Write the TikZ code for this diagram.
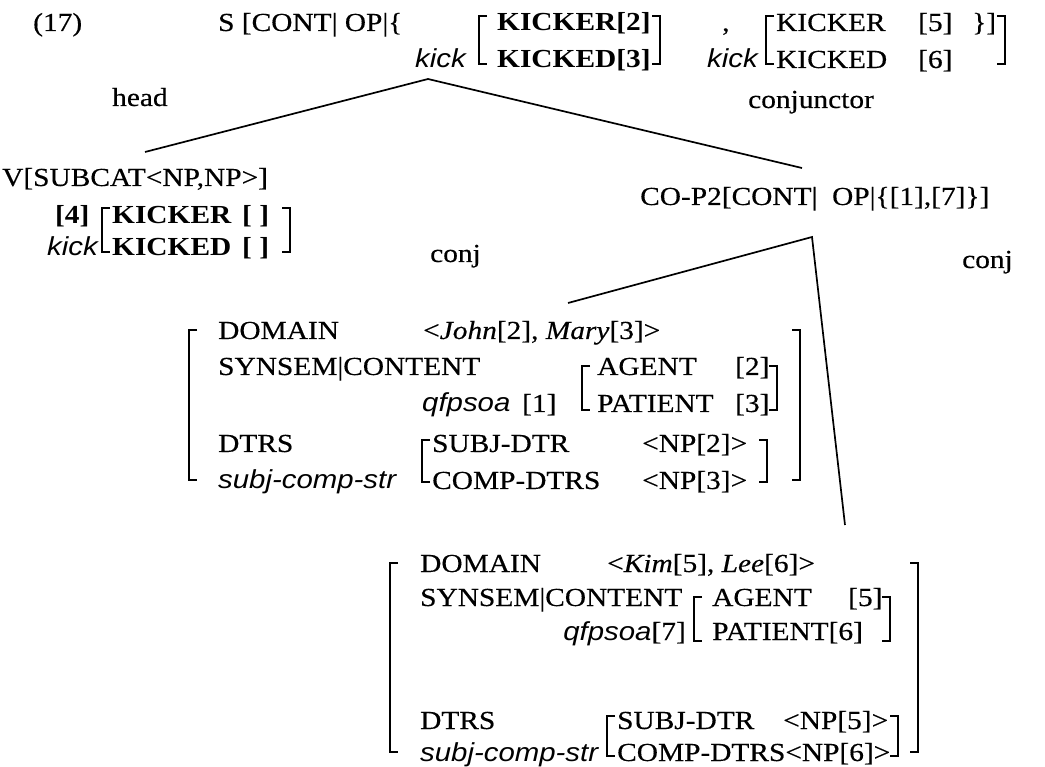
\documentclass[tikz,border=0pt]{standalone}
\usepackage{fontspec}
\setmainfont{Liberation Serif}[FakeStretch=1.13,UprightFeatures={FakeBold=0.4},ItalicFeatures={FakeBold=0.4}]
\newfontfamily\sfit{Liberation Sans}[FakeStretch=1.13]
\newcommand\avmsize{\fontsize{26pt}{30pt}\selectfont}
\begin{document}
\begin{tikzpicture}[x=1pt,y=-1pt,
  lbl/.style={anchor=base west,inner sep=0pt,font=\avmsize},
  bld/.style={lbl,font=\avmsize\bfseries},
  tsl/.style={lbl,font=\avmsize\sfit\itshape},
  brk/.style={line width=1.3pt},
  branch/.style={line width=1.7pt}]
\useasboundingbox (0,0) rectangle (1045,767);
% mother S
\node[lbl] (num) at (33,31) {(17)};
\node[lbl] (sHead) at (218,31) {S [CONT\textbar\ OP\textbar\{};
\node[tsl,anchor=base east] (sKickA) at (466,68) {kick};
\draw[brk] (487,16) -- (479,16) -- (479,64) -- (487,64);
\node[bld] (sKickerA) at (497,31) {KICKER[2]};
\node[bld] (sKickedA) at (497,68) {KICKED[3]};
\draw[brk] (652,16) -- (660,16) -- (660,64) -- (652,64);
\node[lbl] (sComma) at (722,31) {,};
\node[tsl,anchor=base east] (sKickB) at (758,68) {kick};
\draw[brk] (774,16) -- (766,16) -- (766,64) -- (774,64);
\node[lbl] (sKickerB) at (776,31) {KICKER};
\node[lbl] (sKickedB) at (776,68) {KICKED};
\node[lbl] (sFive) at (918,31) {[5]};
\node[lbl] (sSix) at (918,68) {[6]};
\node[lbl] (sClose) at (972,31) {\}]};
\draw[brk] (997,16) -- (1005,16) -- (1005,64) -- (997,64);
\node[lbl] (head) at (112,106) {head};
\node[lbl] (conjunctor) at (748,108) {conjunctor};
\coordinate (sTop) at (428,79);
\coordinate (vTop) at (145,152);
\coordinate (coTop) at (802,168);
\draw[branch] (vTop) -- (sTop) -- (coTop);
% head daughter V
\node[lbl] (vHead) at (2,186) {V[SUBCAT<NP,NP>]};
\node[bld] (vTag) at (55,224) {[4]};
\node[tsl] (vKick) at (47,256) {kick};
\draw[brk] (110,208) -- (102,208) -- (102,252) -- (110,252);
\node[bld] (vKicker) at (112,224) {KICKER};
\node[bld] (vKicked) at (112,256) {KICKED};
\node[bld] (vKickerVal) at (242,224) {[~]};
\node[bld] (vKickedVal) at (242,256) {[~]};
\draw[brk] (282,208) -- (290,208) -- (290,252) -- (282,252);
\node[lbl] (conjA) at (430,262) {conj};
% conjunct daughter CO-P2
\node[lbl] (coHead) at (640,205) {CO-P2[CONT\textbar\ \ OP\textbar\{[1],[7]\}]};
\node[lbl] (conjB) at (962,268) {conj};
\coordinate (coApex) at (812,237);
\coordinate (avmATop) at (568,303);
\coordinate (avmBTop) at (845,525);
\draw[branch] (avmATop) -- (coApex) -- (avmBTop);
% first conjunct
\draw[brk] (197,330) -- (189,330) -- (189,480) -- (197,480);
\node[lbl] (aDomain) at (218,339) {DOMAIN};
\node[lbl] (aDomainVal) at (423,339) {<\textit{John}[2], \textit{Mary}[3]>};
\node[lbl] (aSynsem) at (218,375) {SYNSEM\textbar CONTENT};
\node[tsl] (aSort) at (422,412) {qfpsoa};
\node[lbl] (aTag) at (522,412) {[1]};
\draw[brk] (590,366) -- (582,366) -- (582,410) -- (590,410);
\node[lbl] (aAgent) at (597,375) {AGENT};
\node[lbl] (aAgentVal) at (735,375) {[2]};
\node[lbl] (aPatient) at (597,412) {PATIENT};
\node[lbl] (aPatientVal) at (735,412) {[3]};
\draw[brk] (769,366) -- (777,366) -- (777,410) -- (769,410);
\node[lbl] (aDtrs) at (218,452) {DTRS};
\node[tsl] (aStr) at (218,489) {subj-comp-str};
\draw[brk] (430,440) -- (422,440) -- (422,482) -- (430,482);
\node[lbl] (aSubj) at (432,452) {SUBJ-DTR};
\node[lbl] (aSubjVal) at (642,452) {<NP[2]>};
\node[lbl] (aComp) at (432,489) {COMP-DTRS};
\node[lbl] (aCompVal) at (642,489) {<NP[3]>};
\draw[brk] (759,440) -- (767,440) -- (767,482) -- (759,482);
\draw[brk] (792,330) -- (800,330) -- (800,480) -- (792,480);
% second conjunct
\draw[brk] (398,563) -- (390,563) -- (390,752) -- (398,752);
\node[lbl] (bDomain) at (420,572) {DOMAIN};
\node[lbl] (bDomainVal) at (607,572) {<\textit{Kim}[5], \textit{Lee}[6]>};
\node[lbl] (bSynsem) at (420,606) {SYNSEM\textbar CONTENT};
\node[lbl,anchor=base east] (bSort) at (686,640) {{\sfit\itshape qfpsoa}[7]};
\draw[brk] (702,597) -- (694,597) -- (694,641) -- (702,641);
\node[lbl] (bAgent) at (712,606) {AGENT};
\node[lbl] (bAgentVal) at (848,606) {[5]};
\node[lbl] (bPatient) at (712,640) {PATIENT[6]};
\draw[brk] (882,597) -- (890,597) -- (890,641) -- (882,641);
\node[lbl] (bDtrs) at (420,729) {DTRS};
\node[tsl] (bStr) at (420,761) {subj-comp-str};
\draw[brk] (615,716) -- (607,716) -- (607,756) -- (615,756);
\node[lbl] (bSubj) at (617,729) {SUBJ-DTR};
\node[lbl] (bSubjVal) at (783,729) {<NP[5]>};
\node[lbl] (bComp) at (617,761) {COMP-DTRS<NP[6]>};
\draw[brk] (890,716) -- (898,716) -- (898,756) -- (890,756);
\draw[brk] (910,563) -- (918,563) -- (918,752) -- (910,752);
\end{tikzpicture}
\end{document}
